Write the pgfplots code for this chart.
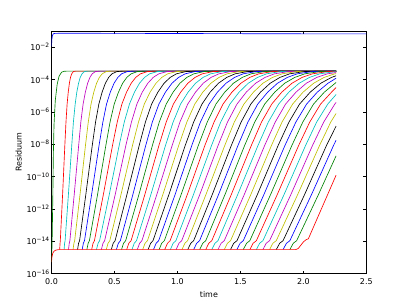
\documentclass[border=0pt]{standalone}
\usepackage{fontspec}
\setmainfont{DejaVu Sans}
\usepackage{pgfplots}
\pgfplotsset{compat=1.18}
\definecolor{colB}{rgb}{0,0,1}
\definecolor{colG}{rgb}{0,0.5,0}
\definecolor{colR}{rgb}{1,0,0}
\definecolor{colC}{rgb}{0,0.75,0.75}
\definecolor{colM}{rgb}{0.75,0,0.75}
\definecolor{colY}{rgb}{0.75,0.75,0}
\definecolor{colK}{rgb}{0,0,0}
\pgfplotsset{table/x index=0, table/y expr={10^(\thisrowno{1})}}
\begin{document}
\fontsize{8}{9.6}\selectfont
\begin{tikzpicture}
\useasboundingbox (0,0) rectangle (407bp,305bp);
\begin{axis}[
  at={(51.5bp,31.5bp)}, anchor=south west,
  scale only axis, width=314.8bp, height=242.5bp,
  xmin=0, xmax=2.5, ymode=log, ymin=1e-16, ymax=1e-1,
  xtick={0,0.5,1,1.5,2,2.5},
  xticklabels={0.0,0.5,1.0,1.5,2.0,2.5},
  ytick={1e-16,1e-14,1e-12,1e-10,1e-8,1e-6,1e-4,1e-2},
  yticklabels={10\textsuperscript{−16},10\textsuperscript{−14},10\textsuperscript{−12},10\textsuperscript{−10},10\textsuperscript{−8},10\textsuperscript{−6},10\textsuperscript{−4},10\textsuperscript{−2}},
  minor tick num=0, yminorticks=false,
  tick align=inside, major tick length=3bp,
  every tick/.style={black, line width=0.6bp},
  axis line style={line width=0.7bp, black},
  xticklabel style={anchor=base, yshift=-10.5bp},
  yticklabel style={anchor=east, inner sep=0pt, xshift=-1.5bp},
  xlabel={time}, ylabel={Residuum},
  xlabel style={at={(axis description cs:0.5,0)}, anchor=base, yshift=-23.5bp},
  ylabel style={at={(axis description cs:0,0.5)}, anchor=base, yshift=29.8bp},
  every axis plot/.append style={line width=0.65bp, line join=round},
  clip=true,
]
\addplot[colB] table {
0 -1.95
0.003 -1.5
0.008 -1.26
0.015 -1.17
0.03 -1.145
0.1 -1.14
0.5 -1.145
1.0 -1.155
1.5 -1.165
2.0 -1.175
2.5 -1.18
};
\addplot[colG] table {
0 -15.3
0.003 -14.6
0.006 -13.5
0.01 -11.5
0.015 -8.5
0.02 -6.8
0.03 -5.3
0.045 -4.3
0.06 -3.8
0.08 -3.55
0.1 -3.49
0.13 -3.48
2.26 -3.48
};
\addplot[colR] table {
0.065 -14.52
0.068 -14.13
0.070 -13.97
0.088 -11.15
0.106 -8.06
0.115 -6.63
0.124 -5.52
0.133 -4.78
0.142 -4.23
0.151 -3.87
0.160 -3.65
0.174 -3.51
0.192 -3.48
2.26 -3.48
};
\addplot[colC] table {
0.100 -14.52
0.104 -14.13
0.108 -13.97
0.134 -11.15
0.161 -8.06
0.174 -6.63
0.188 -5.52
0.201 -4.78
0.215 -4.23
0.228 -3.87
0.242 -3.65
0.262 -3.51
0.289 -3.48
2.26 -3.48
};
\addplot[colM] table {
0.135 -14.52
0.141 -14.13
0.146 -13.97
0.180 -11.15
0.216 -8.06
0.233 -6.63
0.251 -5.52
0.269 -4.78
0.287 -4.23
0.305 -3.87
0.323 -3.65
0.349 -3.51
0.385 -3.48
2.26 -3.48
};
\addplot[colY] table {
0.171 -14.52
0.178 -14.13
0.184 -13.97
0.226 -11.15
0.270 -8.06
0.292 -6.63
0.314 -5.52
0.336 -4.78
0.358 -4.23
0.380 -3.87
0.402 -3.65
0.435 -3.51
0.479 -3.48
2.26 -3.48
};
\addplot[colK] table {
0.207 -14.52
0.215 -14.13
0.223 -13.97
0.272 -11.15
0.324 -8.06
0.350 -6.63
0.376 -5.52
0.402 -4.78
0.428 -4.23
0.454 -3.87
0.480 -3.65
0.519 -3.51
0.571 -3.48
2.26 -3.48
};
\addplot[colB] table {
0.244 -14.52
0.253 -14.13
0.262 -13.97
0.318 -11.15
0.378 -8.06
0.408 -6.63
0.437 -5.52
0.467 -4.78
0.497 -4.23
0.527 -3.87
0.556 -3.65
0.601 -3.51
0.660 -3.48
2.26 -3.48
};
\addplot[colG] table {
0.281 -14.52
0.291 -14.13
0.301 -13.97
0.365 -11.15
0.432 -8.06
0.465 -6.63
0.498 -5.52
0.532 -4.78
0.565 -4.23
0.598 -3.87
0.632 -3.65
0.682 -3.51
0.749 -3.48
2.26 -3.48
};
\addplot[colR] table {
0.319 -14.52
0.330 -14.13
0.341 -13.97
0.411 -11.15
0.485 -8.06
0.522 -6.63
0.559 -5.52
0.596 -4.78
0.633 -4.23
0.669 -3.87
0.706 -3.65
0.762 -3.51
0.835 -3.48
2.26 -3.48
};
\addplot[colC] table {
0.357 -14.52
0.370 -14.13
0.382 -13.97
0.458 -11.15
0.538 -8.06
0.578 -6.63
0.619 -5.52
0.659 -4.78
0.699 -4.23
0.739 -3.87
0.779 -3.65
0.840 -3.51
0.920 -3.48
2.26 -3.48
};
\addplot[colM] table {
0.396 -14.52
0.409 -14.13
0.422 -13.97
0.505 -11.15
0.591 -8.06
0.635 -6.63
0.678 -5.52
0.721 -4.78
0.765 -4.23
0.808 -3.87
0.852 -3.65
0.917 -3.51
1.003 -3.48
2.26 -3.48
};
\addplot[colY] table {
0.435 -14.52
0.449 -14.13
0.463 -13.97
0.551 -11.15
0.644 -8.06
0.691 -6.63
0.737 -5.52
0.783 -4.78
0.830 -4.23
0.876 -3.87
0.922 -3.65
0.992 -3.51
1.085 -3.48
2.26 -3.48
};
\addplot[colK] table {
0.475 -14.52
0.490 -14.13
0.505 -13.97
0.598 -11.15
0.697 -8.06
0.746 -6.63
0.795 -5.52
0.845 -4.78
0.894 -4.23
0.943 -3.87
0.992 -3.65
1.066 -3.51
1.165 -3.48
2.26 -3.48
};
\addplot[colB] table {
0.515 -14.52
0.531 -14.13
0.547 -13.97
0.645 -11.15
0.749 -8.06
0.801 -6.63
0.853 -5.52
0.905 -4.78
0.957 -4.23
1.009 -3.87
1.061 -3.65
1.139 -3.51
1.243 -3.48
2.26 -3.48
};
\addplot[colG] table {
0.556 -14.52
0.572 -14.13
0.589 -13.97
0.693 -11.15
0.802 -8.06
0.856 -6.63
0.911 -5.52
0.966 -4.78
1.020 -4.23
1.075 -3.87
1.130 -3.65
1.211 -3.51
1.321 -3.48
2.26 -3.48
};
\addplot[colR] table {
0.597 -14.52
0.614 -14.13
0.632 -13.97
0.740 -11.15
0.854 -8.06
0.911 -6.63
0.968 -5.52
1.026 -4.78
1.083 -4.23
1.140 -3.87
1.197 -3.65
1.282 -3.51
1.397 -3.48
2.26 -3.48
};
\addplot[colC] table {
0.639 -14.52
0.657 -14.13
0.675 -13.97
0.788 -11.15
0.906 -8.06
0.966 -6.63
1.025 -5.52
1.085 -4.78
1.144 -4.23
1.204 -3.87
1.263 -3.65
1.352 -3.51
1.471 -3.48
2.26 -3.48
};
\addplot[colM] table {
0.681 -14.52
0.700 -14.13
0.718 -13.97
0.835 -11.15
0.959 -8.06
1.020 -6.63
1.082 -5.52
1.144 -4.78
1.205 -4.23
1.267 -3.87
1.329 -3.65
1.421 -3.51
1.544 -3.48
2.26 -3.48
};
\addplot[colY] table {
0.724 -14.52
0.743 -14.13
0.762 -13.97
0.883 -11.15
1.011 -8.06
1.075 -6.63
1.138 -5.52
1.202 -4.78
1.266 -4.23
1.330 -3.87
1.394 -3.65
1.489 -3.51
1.617 -3.48
2.26 -3.48
};
\addplot[colK] table {
0.767 -14.52
0.787 -14.13
0.806 -13.97
0.931 -11.15
1.063 -8.06
1.129 -6.63
1.195 -5.52
1.260 -4.78
1.326 -4.23
1.392 -3.87
1.458 -3.65
1.556 -3.51
1.688 -3.48
2.26 -3.48
};
\addplot[colB] table {
0.810 -14.52
0.831 -14.13
0.851 -13.97
0.980 -11.15
1.115 -8.06
1.183 -6.63
1.251 -5.52
1.318 -4.78
1.386 -4.23
1.454 -3.87
1.521 -3.65
1.623 -3.51
1.758 -3.48
2.26 -3.48
};
\addplot[colG] table {
0.855 -14.52
0.875 -14.13
0.896 -13.97
1.028 -11.15
1.167 -8.06
1.237 -6.63
1.306 -5.52
1.376 -4.78
1.445 -4.23
1.515 -3.87
1.584 -3.65
1.688 -3.51
1.827 -3.48
2.26 -3.48
};
\addplot[colR] table {
0.899 -14.52
0.921 -14.13
0.942 -13.97
1.077 -11.15
1.219 -8.06
1.291 -6.63
1.362 -5.52
1.433 -4.78
1.504 -4.23
1.575 -3.87
1.646 -3.65
1.753 -3.51
1.896 -3.48
2.26 -3.48
};
\addplot[colC] table {
0.944 -14.52
0.966 -14.13
0.988 -13.97
1.126 -11.15
1.272 -8.06
1.344 -6.63
1.417 -5.52
1.490 -4.78
1.563 -4.23
1.636 -3.87
1.708 -3.65
1.817 -3.51
1.963 -3.48
2.26 -3.48
};
\addplot[colM] table {
0.990 -14.52
1.012 -14.13
1.034 -13.97
1.176 -11.15
1.324 -8.06
1.398 -6.63
1.473 -5.52
1.547 -4.78
1.621 -4.23
1.696 -3.87
1.770 -3.65
1.881 -3.51
2.030 -3.48
2.26 -3.48
};
\addplot[colY] table {
1.036 -14.52
1.059 -14.13
1.081 -13.97
1.225 -11.15
1.377 -8.06
1.452 -6.63
1.528 -5.52
1.604 -4.78
1.679 -4.23
1.755 -3.87
1.831 -3.65
1.944 -3.51
2.096 -3.48
2.26 -3.48
};
\addplot[colK] table {
1.082 -14.52
1.106 -14.13
1.129 -13.97
1.275 -11.15
1.429 -8.06
1.506 -6.63
1.583 -5.52
1.660 -4.78
1.737 -4.23
1.814 -3.87
1.891 -3.65
2.007 -3.51
2.161 -3.48
2.26 -3.48
};
\addplot[colB] table {
1.129 -14.52
1.153 -14.13
1.176 -13.97
1.325 -11.15
1.482 -8.06
1.560 -6.63
1.638 -5.52
1.717 -4.78
1.795 -4.23
1.873 -3.87
1.951 -3.65
2.069 -3.51
2.225 -3.48
2.26 -3.48
};
\addplot[colG] table {
1.177 -14.52
1.201 -14.13
1.225 -13.97
1.376 -11.15
1.535 -8.06
1.614 -6.63
1.693 -5.52
1.773 -4.78
1.852 -4.23
1.932 -3.87
2.011 -3.65
2.130 -3.51
2.26 -3.49
};
\addplot[colR] table {
1.225 -14.52
1.249 -14.13
1.273 -13.97
1.426 -11.15
1.588 -8.06
1.668 -6.63
1.749 -5.52
1.829 -4.78
1.910 -4.23
1.990 -3.87
2.071 -3.65
2.192 -3.51
2.26 -3.50
};
\addplot[colC] table {
1.273 -14.52
1.298 -14.13
1.322 -13.97
1.477 -11.15
1.641 -8.06
1.722 -6.63
1.804 -5.52
1.885 -4.78
1.967 -4.23
2.049 -3.87
2.130 -3.65
2.253 -3.51
2.26 -3.51
};
\addplot[colM] table {
1.322 -14.52
1.347 -14.13
1.372 -13.97
1.529 -11.15
1.694 -8.06
1.777 -6.63
1.859 -5.52
1.942 -4.78
2.024 -4.23
2.107 -3.87
2.190 -3.65
2.26 -3.57
};
\addplot[colY] table {
1.372 -14.52
1.397 -14.13
1.422 -13.97
1.581 -11.15
1.748 -8.06
1.831 -6.63
1.915 -5.52
1.998 -4.78
2.082 -4.23
2.165 -3.87
2.249 -3.65
2.26 -3.64
};
\addplot[colK] table {
1.422 -14.52
1.447 -14.13
1.473 -13.97
1.633 -11.15
1.801 -8.06
1.886 -6.63
1.970 -5.52
2.055 -4.78
2.139 -4.23
2.223 -3.87
2.26 -3.77
};
\addplot[colB] table {
1.472 -14.52
1.498 -14.13
1.523 -13.97
1.685 -11.15
1.855 -8.06
1.941 -6.63
2.026 -5.52
2.111 -4.78
2.196 -4.23
2.26 -3.92
};
\addplot[colG] table {
1.523 -14.52
1.549 -14.13
1.575 -13.97
1.738 -11.15
1.910 -8.06
1.996 -6.63
2.081 -5.52
2.167 -4.78
2.253 -4.23
2.26 -4.18
};
\addplot[colR] table {
1.575 -14.52
1.601 -14.13
1.627 -13.97
1.791 -11.15
1.964 -8.06
2.051 -6.63
2.137 -5.52
2.224 -4.78
2.26 -4.50
};
\addplot[colC] table {
1.627 -14.52
1.653 -14.13
1.679 -13.97
1.845 -11.15
2.019 -8.06
2.106 -6.63
2.194 -5.52
2.26 -4.93
};
\addplot[colM] table {
1.679 -14.52
1.705 -14.13
1.732 -13.97
1.899 -11.15
2.074 -8.06
2.162 -6.63
2.250 -5.52
2.26 -5.42
};
\addplot[colY] table {
1.732 -14.52
1.758 -14.13
1.785 -13.97
1.953 -11.15
2.130 -8.06
2.218 -6.63
2.26 -6.10
};
\addplot[colK] table {
1.785 -14.52
1.812 -14.13
1.839 -13.97
2.008 -11.15
2.185 -8.06
2.26 -6.88
};
\addplot[colB] table {
1.839 -14.52
1.866 -14.13
1.893 -13.97
2.063 -11.15
2.241 -8.06
2.26 -7.76
};
\addplot[colG] table {
1.893 -14.52
1.920 -14.13
1.947 -13.97
2.118 -11.15
2.26 -8.72
};
\addplot[colR] table {
0 -15.3
0.004 -14.95
0.01 -14.75
0.02 -14.62
0.035 -14.55
0.06 -14.52
1.94 -14.52
1.96 -14.45
1.98 -14.25
2.0 -14.05
2.02 -13.92
2.04 -13.85
2.26 -9.92
};
\end{axis}
\end{tikzpicture}
\end{document}
